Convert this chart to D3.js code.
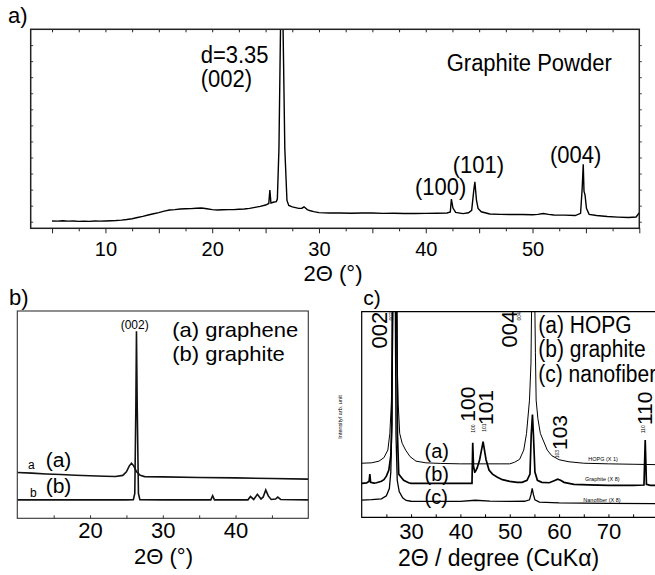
<!DOCTYPE html>
<html><head><meta charset="utf-8">
<script src="https://cdn.jsdelivr.net/npm/d3@7/dist/d3.min.js"></script>
<style>
body{margin:0;background:#fff}
svg{display:block}
text{font-family:Arial,"Liberation Sans",sans-serif;fill:#000}
</style></head>
<body><svg id="chart" width="655" height="575"></svg>
<script>
// ---------- Panel a: graphite powder ----------
const powderTheta = [5.0,5.5,6.0,6.5,7.0,7.5,8.0,8.5,9.0,9.5,10.0,10.5,11.0,11.5,12.0,12.5,13.0,13.5,14.0,14.5,15.0,15.5,16.0,16.5,17.0,17.5,18.0,18.5,19.0,19.5,20.0,20.5,21.0,21.5,22.0,22.5,23.0,23.5,24.0,24.5,25.0,25.3,25.4,25.5,25.8,26.0,26.1,26.25,26.42,26.61,26.8,27.0,27.17,27.5,27.8,28.1,28.4,28.6,28.9,29.2,29.5,30.0,31.0,32.0,33.0,34.0,35.0,36.0,37.0,38.0,39.0,40.0,41.0,42.0,42.3,42.4,42.55,42.8,43.5,44.0,44.3,44.5,44.6,44.75,44.9,45.2,46.0,47.0,48.0,49.0,50.0,50.5,51.0,51.5,52.0,53.0,54.0,54.5,54.65,54.75,54.82,54.92,55.05,55.3,56.0,57.0,58.0,59.0,59.7,60.0];
const powderI = [3.7,3.6,3.8,3.6,3.7,3.5,3.6,3.5,3.7,3.6,3.7,3.8,3.9,4.1,4.4,4.8,5.4,6.0,6.7,7.3,7.9,8.6,9.2,9.4,9.7,9.8,9.9,10.1,10.2,9.8,9.4,9.2,9.3,9.4,9.4,9.6,9.7,10.0,10.5,11.0,11.7,12.5,19.2,12.7,13.2,13.4,14.7,40,110,110,40,14,11.5,10.8,10.4,10.0,10.1,10.8,9.4,8.8,8.4,7.9,7.7,7.7,7.6,7.7,7.7,7.5,7.6,7.4,7.4,7.5,7.6,7.7,8.2,14.7,10.2,8.0,7.4,7.8,9.0,19.2,23.4,14.2,10.0,8.3,7.2,7.0,6.9,6.9,6.8,7.0,7.4,7.0,6.7,6.6,6.4,7.5,20,32.2,18.7,16.7,10,7.0,6.4,5.9,5.6,5.4,5.7,7.8];
const aTickLabels = [10,20,30,40,50];
const aTicksAll = [5,7.5,10,12.5,15,17.5,20,22.5,25,27.5,30,32.5,35,37.5,40,42.5,45,47.5,50,52.5,55,57.5,60];
const aPeakLabels = ["(100)","(101)","(004)"];

// ---------- Panel b: graphene vs graphite ----------
const grapheneTheta = [10,12,14,16,18,20,22,23.5,24.5,25.0,25.4,25.7,26.0,26.4,26.9,27.5,30,35,40,45,50];
const grapheneI = [22.1,21.8,21.4,21.1,20.8,20.5,20.3,20.2,20.7,22.4,25.3,26.6,25.3,22.4,20.7,20.1,20.0,19.7,19.5,19.2,18.9];
const graphiteBTheta = [10,20,25,25.95,26.15,26.3,26.38,26.48,26.65,26.85,30,36.6,36.85,37.1,41.7,42.05,42.5,43.0,43.5,43.8,44.15,44.5,44.9,45.5,45.8,46.2,50];
const graphiteBI = [8.9,8.9,8.9,9.0,12,55,90.2,55,12,9.0,8.9,8.9,10.9,8.9,8.9,10.5,9.1,11.6,9.3,10.3,13.7,10.8,9.1,9.3,10.2,9.1,8.9];
const bTickLabels = [20,30,40];
const bTicksAll = [15,20,25,30,35,40,45];
const bLegend = ["(a) graphene","(b) graphite"];

// ---------- Panel c: HOPG / graphite / nanofiber ----------
const hopgTheta = [20,22,23.5,24.5,25.3,25.7,26.0,26.25,26.4,27.0,27.2,27.4,27.7,28.2,28.9,29.8,31,33,36,40,45,48,50,51,52,52.84,53.4,54.0,54.3,54.55,54.95,55.2,55.35,55.7,56.2,57.6,58.5,60,62,65,70,75,80];
const hopgI = [26.3,26.5,27.3,29.0,32.7,40.8,55,80,130,130,75,55,40.8,36,32.7,29.5,27.3,26.5,26.2,26.0,26.0,26.0,26.0,26.8,28.2,32.7,40.8,57,75,130,130,80,57,48,40.8,32.7,30,28,27,26.3,26,25.8,25.6];
const graphiteCTheta = [20,21.0,21.5,21.65,21.8,22.5,23,24,24.5,25,25.5,25.9,26.1,26.3,27.05,27.25,27.5,28,28.5,29.5,30,35,40,42.35,42.5,42.65,42.9,43.0,43.4,43.9,44.3,44.6,44.85,45.2,45.8,46.5,47.5,48.5,50,51.5,52.5,53.5,54.1,54.35,54.6,54.8,55.1,55.6,56.5,58,59,59.7,60.3,61,63,66,70,75,77.2,77.45,77.7,78.5,80];
const graphiteCI = [16.5,16.7,17.5,21,17,16.6,16.8,17.5,18.3,20,23,30,45,130,130,40,21,19.5,18,16.8,16.5,16.5,16.5,16.5,36.3,25,22,22.1,24,28,33,36.8,33,28,23,21,19.5,18.3,17.5,17,17,18,21,40,50,40,22,18,17,16.8,17.8,18.5,18,17,16,15.8,15.5,15.5,15.7,37.6,16,15.5,15.5];
const nanoTheta = [20,22,24,25,25.6,25.9,26.1,26.3,26.75,26.95,27.2,27.6,28.3,29,30,35,40,43,46,50,53,54.0,54.3,54.55,54.8,55.1,56,60,70,80];
const nanoI = [8.4,8.6,9.0,10.5,14,22,45,130,130,40,18,12.5,9.5,8.2,7.8,7.7,7.7,8.3,7.9,7.7,7.8,8.5,11,14.1,11,8.5,7.4,7.0,6.8,6.6];
const cTickLabels = [30,40,50,60,70];
const cTicksAll = [25,30,35,40,45,50,55,60,65,70,75];
const cLegend = ["(a) HOPG","(b) graphite","(c) nanofiber"];
const cTraceTags = ["HOPG (X 1)","Graphite (X 8)","Nanofiber (X 8)"];

const svg = d3.select("#chart");
const defs = svg.append("defs");

function clip(id, x0, y0, x1, y1){
  defs.append("clipPath").attr("id", id).append("rect")
    .attr("x", x0).attr("y", y0).attr("width", x1 - x0).attr("height", y1 - y0);
}
function label(g, x, y, s, size, opt){
  opt = opt || {};
  let tr = `translate(${x},${y})`;
  if (opt.rot) tr += ` rotate(${opt.rot})`;
  if (opt.sy) tr += ` scale(1,${opt.sy})`;
  return g.append("text").attr("transform", tr).attr("font-size", size)
    .attr("text-anchor", opt.anchor || "start").text(s);
}
function series(xs, ys){ return xs.map((v, i) => [v, ys[i]]); }

// ================= Panel a =================
{
  const L = 30.7, R = 639.3, T = 29.3, B = 228.3;
  const x = d3.scaleLinear().domain([3, 60]).range([L, R]);
  const y = d3.scaleLinear().domain([0, 100]).range([B, T]);
  const g = svg.append("g");
  clip("clipA", L, T, R, B);
  g.append("path").datum(series(powderTheta, powderI))
    .attr("clip-path", "url(#clipA)")
    .attr("fill", "none").attr("stroke", "#000").attr("stroke-width", 1.4)
    .attr("d", d3.line().x(d => x(d[0])).y(d => y(d[1])));
  const major = aTicksAll.filter(v => v % 5 === 0), minor = aTicksAll.filter(v => v % 5 !== 0);
  const ax = g.append("g").attr("transform", `translate(0,${B})`);
  ax.call(d3.axisBottom(x).tickValues(major).tickSize(5).tickPadding(8.5)
      .tickFormat(v => aTickLabels.includes(v) ? v : ""));
  ax.append("g").call(d3.axisBottom(x).tickValues(minor).tickSize(3).tickFormat(""));
  ax.selectAll(".domain").remove();
  ax.selectAll("text").attr("font-size", 20).attr("font-family", "Arial, 'Liberation Sans', sans-serif").attr("fill", "#000");
  ax.selectAll("line").attr("stroke", "#222");
  const at = g.append("g").attr("transform", `translate(0,${T})`);
  at.call(d3.axisTop(x).tickValues(aTicksAll.filter(v => v < 60)).tickSize(-3).tickFormat(""));
  at.selectAll(".domain").remove();
  at.selectAll("line").attr("stroke", "#222");
  const yt = d3.range(3.3, 100, 8.07);
  const al = g.append("g").attr("transform", `translate(${L},0)`);
  al.call(d3.axisLeft(y).tickValues(yt).tickSize(-2.5).tickFormat(""));
  al.selectAll(".domain").remove();
  al.selectAll("line").attr("stroke", "#444");
  const ar = g.append("g").attr("transform", `translate(${R},0)`);
  ar.call(d3.axisRight(y).tickValues(yt).tickSize(2.5).tickFormat(""));
  ar.selectAll(".domain").remove();
  ar.selectAll("line").attr("stroke", "#444");
  g.append("rect").attr("x", L).attr("y", T).attr("width", R - L).attr("height", B - T)
    .attr("fill", "none").attr("stroke", "#222").attr("stroke-width", 1.5);

  label(svg, 8, 23, "a)", 22);
  label(svg, 200.7, 62.5, "d=3.35", 22, {sy: 1.1});
  label(svg, 200.7, 87, "(002)", 22, {sy: 1.1});
  label(svg, 446.7, 71, "Graphite Powder", 22, {sy: 1.05});
  label(svg, 415, 195, aPeakLabels[0], 22, {sy: 1.08});
  label(svg, 452.7, 173.3, aPeakLabels[1], 22, {sy: 1.08});
  label(svg, 550, 162.7, aPeakLabels[2], 22, {sy: 1.08});
  label(svg, 333, 281, "2Θ (°)", 22, {anchor: "middle"});
}

// ================= Panel b =================
{
  const L = 17.3, R = 308.3, T = 311, B = 518.3;
  const x = d3.scaleLinear().domain([10, 50]).range([L, R]);
  const y = d3.scaleLinear().domain([0, 100]).range([B, T]);
  const g = svg.append("g");
  clip("clipB", L, T, R, B);
  const line = d3.line().x(d => x(d[0])).y(d => y(d[1]));
  g.append("path").datum(series(grapheneTheta, grapheneI)).attr("clip-path", "url(#clipB)")
    .attr("fill", "none").attr("stroke", "#111").attr("stroke-width", 1.6).attr("d", line);
  g.append("path").datum(series(graphiteBTheta, graphiteBI)).attr("clip-path", "url(#clipB)")
    .attr("fill", "none").attr("stroke", "#111").attr("stroke-width", 1.6).attr("d", line);
  const ax = g.append("g").attr("transform", `translate(0,${B})`);
  ax.call(d3.axisBottom(x).tickValues(bTicksAll).tickSize(-3).tickPadding(4.5)
      .tickFormat(v => bTickLabels.includes(v) ? v : ""));
  ax.selectAll(".domain").remove();
  ax.selectAll("text").attr("font-size", 22).attr("font-family", "Arial, 'Liberation Sans', sans-serif").attr("fill", "#000");
  ax.selectAll("line").attr("stroke", "#333");
  g.append("rect").attr("x", L).attr("y", T).attr("width", R - L).attr("height", B - T)
    .attr("fill", "none").attr("stroke", "#333").attr("stroke-width", 1.1);

  label(svg, 9, 305, "b)", 22);
  label(svg, 120.7, 328.5, "(002)", 12);
  label(svg, 172.3, 337, bLegend[0], 22, {sy: 0.92});
  label(svg, 172.3, 361, bLegend[1], 22, {sy: 0.92});
  label(svg, 28, 469, "a", 12);
  label(svg, 45.7, 466.5, "(a)", 21, {sy: 0.95});
  label(svg, 30, 496.5, "b", 12);
  label(svg, 45.7, 493, "(b)", 21, {sy: 0.95});
  label(svg, 163.5, 564, "2Θ (°)", 22, {anchor: "middle"});
}

// ================= Panel c =================
{
  const L = 361.7, R = 657.8, T = 311.7, B = 517.3;
  const x = d3.scaleLinear().domain([20, 80]).range([L, R]);
  const y = d3.scaleLinear().domain([0, 100]).range([B, T]);
  const g = svg.append("g");
  clip("clipC", L, T, R, B);
  const line = d3.line().x(d => x(d[0])).y(d => y(d[1]));
  g.append("path").datum(series(hopgTheta, hopgI)).attr("clip-path", "url(#clipC)")
    .attr("fill", "none").attr("stroke", "#000").attr("stroke-width", 1.0).attr("d", line);
  g.append("path").datum(series(graphiteCTheta, graphiteCI)).attr("clip-path", "url(#clipC)")
    .attr("fill", "none").attr("stroke", "#000").attr("stroke-width", 1.7).attr("d", line);
  g.append("path").datum(series(nanoTheta, nanoI)).attr("clip-path", "url(#clipC)")
    .attr("fill", "none").attr("stroke", "#000").attr("stroke-width", 1.3).attr("d", line);
  const ax = g.append("g").attr("transform", `translate(0,${B})`);
  ax.call(d3.axisBottom(x).tickValues(cTicksAll).tickSize(-3).tickPadding(6.5)
      .tickFormat(v => cTickLabels.includes(v) ? v : ""));
  ax.selectAll(".domain").remove();
  ax.selectAll("text").attr("font-size", 22).attr("font-family", "Arial, 'Liberation Sans', sans-serif").attr("fill", "#000");
  ax.selectAll("line").attr("stroke", "#000");
  g.append("path").attr("d", `M${R},${T}H${L}V${B}H${R}`)
    .attr("fill", "none").attr("stroke", "#000").attr("stroke-width", 1.2);

  label(svg, 363.3, 305, "c)", 21);
  label(svg, 386.7, 348.5, "002", 22, {rot: -90});
  label(svg, 516.5, 347.5, "004", 22, {rot: -90});
  label(svg, 475, 421.7, "100", 21, {rot: -90});
  label(svg, 493, 425, "101", 21, {rot: -90});
  label(svg, 567, 450, "103", 21, {rot: -90});
  label(svg, 652, 425, "110", 21, {rot: -90});
  label(svg, 393, 320.5, "002", 5, {rot: -90});
  label(svg, 521, 320.5, "004", 5, {rot: -90});
  label(svg, 474.5, 432.7, "100", 5, {rot: -90});
  label(svg, 486, 431.7, "101", 5, {rot: -90});
  label(svg, 559, 458.3, "103", 5, {rot: -90});
  label(svg, 645, 433.3, "110", 5, {rot: -90});
  label(svg, 538.3, 333.3, cLegend[0], 21, {sy: 1.1});
  label(svg, 538.3, 357, cLegend[1], 21, {sy: 1.1});
  label(svg, 538.3, 381.5, cLegend[2], 21, {sy: 1.1});
  label(svg, 424.5, 457.5, "(a)", 20);
  label(svg, 424.5, 480.5, "(b)", 20);
  label(svg, 424.5, 503.5, "(c)", 20);
  label(svg, 588.3, 461, cTraceTags[0], 5.5);
  label(svg, 585, 481, cTraceTags[1], 5.5);
  label(svg, 583.3, 502.3, cTraceTags[2], 5.5);
  label(svg, 342, 417, "Intensity/ arb. unit", 5.5, {rot: -90, anchor: "middle"});
  label(svg, 498.5, 565.5, "2Θ / degree (CuKα)", 23, {anchor: "middle"});
}
</script>
</body></html>
